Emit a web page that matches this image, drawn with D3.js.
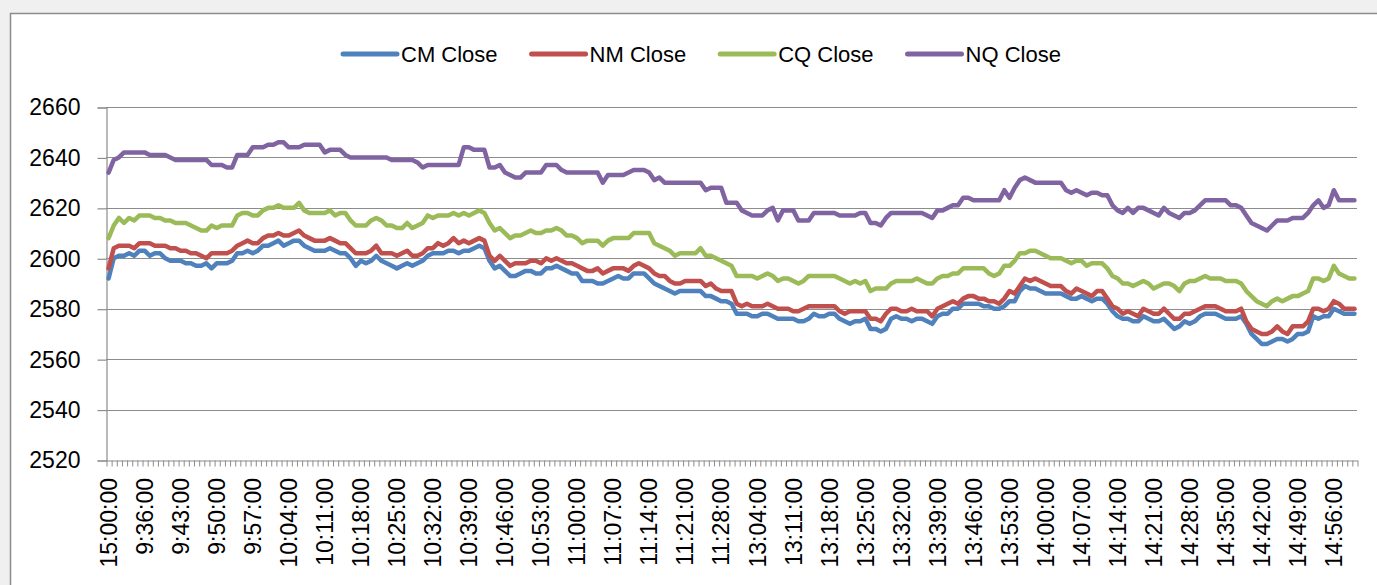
<!DOCTYPE html>
<html>
<head>
<meta charset="utf-8">
<script src="https://cdn.jsdelivr.net/npm/d3@7"></script>
<style>
  body { margin: 0; background: #f0f0f0; }
  svg text { font-family: "Liberation Sans", Arial, sans-serif; fill: #000; }
</style>
</head>
<body>
<svg id="chart" width="1377" height="585"></svg>
<script>
const cmClose = [
  2592,2600,2601,2601,2602,2601,2603,2603,2601,2602,
  2602,2600,2599,2599,2599,2598,2598,2597,2597,2598,
  2596,2598,2598,2598,2599,2602,2602,2603,2602,2603,
  2605,2605,2606,2607,2605,2606,2607,2607,2605,2604,
  2603,2603,2603,2604,2603,2602,2602,2600,2597,2599,
  2598,2599,2601,2599,2598,2597,2596,2597,2598,2597,
  2598,2599,2601,2602,2602,2602,2603,2603,2602,2603,
  2603,2604,2605,2604,2599,2596,2597,2595,2593,2593,
  2594,2595,2595,2594,2594,2596,2596,2597,2596,2595,
  2594,2594,2591,2591,2591,2590,2590,2591,2592,2593,
  2592,2592,2594,2594,2594,2592,2590,2589,2588,2587,
  2586,2587,2587,2587,2587,2587,2585,2585,2584,2583,
  2583,2582,2578,2578,2578,2577,2577,2578,2578,2577,
  2576,2576,2576,2576,2575,2575,2576,2578,2577,2577,
  2578,2578,2576,2575,2574,2575,2575,2576,2572,2572,
  2571,2572,2576,2577,2576,2576,2575,2576,2576,2575,
  2574,2577,2578,2578,2580,2580,2582,2582,2582,2582,
  2581,2581,2580,2580,2581,2583,2583,2587,2589,2588,
  2588,2587,2586,2586,2586,2586,2585,2584,2584,2585,
  2584,2583,2584,2584,2582,2579,2577,2576,2576,2575,
  2575,2577,2576,2575,2575,2576,2574,2572,2573,2575,
  2574,2575,2577,2578,2578,2578,2577,2576,2576,2576,
  2577,2574,2570,2568,2566,2566,2567,2568,2568,2567,
  2568,2570,2570,2571,2577,2576,2577,2577,2580,2579,
  2578,2578,2578
];

const nmClose = [
  2596,2604,2605,2605,2605,2604,2606,2606,2606,2605,
  2605,2605,2604,2604,2603,2603,2602,2602,2601,2600,
  2602,2602,2602,2602,2603,2605,2606,2607,2606,2606,
  2608,2609,2609,2610,2609,2609,2610,2611,2609,2608,
  2607,2607,2607,2608,2607,2606,2606,2604,2602,2602,
  2602,2603,2605,2602,2602,2602,2601,2602,2603,2601,
  2601,2602,2604,2604,2606,2605,2606,2608,2606,2607,
  2606,2607,2608,2607,2601,2599,2601,2599,2597,2598,
  2598,2598,2599,2599,2598,2600,2599,2600,2599,2598,
  2598,2597,2596,2595,2595,2596,2594,2595,2596,2596,
  2596,2595,2597,2598,2597,2596,2594,2593,2593,2591,
  2590,2590,2591,2591,2591,2591,2589,2590,2588,2587,
  2587,2587,2582,2581,2582,2581,2581,2581,2582,2581,
  2580,2580,2580,2579,2579,2580,2581,2581,2581,2581,
  2581,2581,2579,2578,2579,2579,2579,2579,2576,2576,
  2575,2578,2580,2580,2579,2579,2580,2579,2579,2579,
  2577,2580,2581,2582,2583,2582,2584,2585,2585,2584,
  2584,2583,2583,2582,2584,2587,2586,2589,2592,2591,
  2592,2591,2590,2589,2589,2589,2587,2586,2588,2587,
  2586,2585,2587,2587,2584,2581,2580,2578,2579,2578,
  2577,2580,2579,2578,2578,2580,2578,2576,2576,2578,
  2578,2579,2580,2581,2581,2581,2580,2579,2579,2579,
  2580,2575,2572,2571,2570,2570,2571,2573,2571,2570,
  2573,2573,2573,2575,2580,2580,2579,2580,2583,2582,
  2580,2580,2580
];

const cqClose = [
  2608,2613,2616,2614,2616,2615,2617,2617,2617,2616,
  2616,2615,2615,2614,2614,2614,2613,2612,2611,2611,
  2613,2612,2613,2613,2613,2617,2618,2618,2617,2617,
  2619,2620,2620,2621,2620,2620,2620,2622,2619,2618,
  2618,2618,2618,2619,2617,2618,2618,2615,2613,2613,
  2613,2615,2616,2615,2613,2613,2612,2612,2614,2612,
  2613,2614,2617,2616,2617,2617,2617,2618,2617,2618,
  2617,2618,2619,2618,2614,2611,2612,2610,2608,2609,
  2609,2610,2611,2610,2610,2611,2611,2612,2611,2609,
  2609,2608,2606,2607,2607,2607,2605,2607,2608,2608,
  2608,2608,2610,2610,2610,2610,2606,2605,2604,2603,
  2601,2602,2602,2602,2602,2604,2601,2601,2600,2599,
  2598,2597,2593,2593,2593,2593,2592,2593,2594,2593,
  2591,2592,2592,2591,2590,2591,2593,2593,2593,2593,
  2593,2593,2592,2591,2590,2591,2590,2591,2587,2588,
  2588,2588,2590,2591,2591,2591,2591,2592,2591,2590,
  2590,2592,2593,2593,2594,2594,2596,2596,2596,2596,
  2596,2594,2593,2594,2597,2597,2599,2602,2602,2603,
  2603,2602,2601,2600,2600,2600,2599,2598,2599,2599,
  2597,2598,2598,2598,2596,2593,2592,2590,2590,2589,
  2590,2591,2590,2588,2589,2590,2590,2589,2587,2590,
  2591,2591,2592,2593,2592,2592,2592,2591,2591,2591,
  2590,2587,2585,2583,2582,2581,2583,2584,2583,2584,
  2585,2585,2586,2587,2592,2592,2591,2592,2597,2594,
  2593,2592,2592
];

const nqClose = [
  2634,2639,2640,2642,2642,2642,2642,2642,2641,2641,
  2641,2641,2640,2639,2639,2639,2639,2639,2639,2639,
  2637,2637,2637,2636,2636,2641,2641,2641,2644,2644,
  2644,2645,2645,2646,2646,2644,2644,2644,2645,2645,
  2645,2645,2642,2643,2643,2643,2641,2640,2640,2640,
  2640,2640,2640,2640,2640,2639,2639,2639,2639,2639,
  2638,2636,2637,2637,2637,2637,2637,2637,2637,2644,
  2644,2643,2643,2643,2636,2636,2637,2634,2633,2632,
  2632,2634,2634,2634,2634,2637,2637,2637,2635,2634,
  2634,2634,2634,2634,2634,2634,2630,2633,2633,2633,
  2633,2634,2635,2635,2635,2634,2631,2632,2630,2630,
  2630,2630,2630,2630,2630,2630,2627,2628,2628,2628,
  2622,2622,2622,2619,2618,2617,2617,2617,2619,2620,
  2615,2619,2619,2619,2615,2615,2615,2618,2618,2618,
  2618,2618,2617,2617,2617,2617,2618,2618,2614,2614,
  2613,2616,2618,2618,2618,2618,2618,2618,2618,2617,
  2616,2619,2619,2620,2621,2621,2624,2624,2623,2623,
  2623,2623,2623,2623,2627,2624,2628,2631,2632,2631,
  2630,2630,2630,2630,2630,2630,2627,2626,2627,2626,
  2625,2626,2626,2625,2625,2621,2619,2618,2620,2618,
  2620,2620,2619,2618,2617,2620,2618,2617,2616,2618,
  2618,2619,2621,2623,2623,2623,2623,2623,2621,2621,
  2620,2617,2614,2613,2612,2611,2613,2615,2615,2615,
  2616,2616,2616,2618,2621,2623,2620,2621,2627,2623,
  2623,2623,2623
];

const seriesNames = ["CM Close", "NM Close", "CQ Close", "NQ Close"];
const seriesColors = ["#4f81bd", "#c0504d", "#9bbb59", "#8064a2"];
const yTicks = [2520, 2540, 2560, 2580, 2600, 2620, 2640, 2660];

// trading minutes: previous close, then the morning and afternoon sessions
const prevClose = "15:00:00";
const sessions = [["9:30", "11:30"], ["13:00", "15:00"]];
const labelEvery = 7;

const toMin = s => { const [h, m] = s.split(":").map(Number); return h * 60 + m; };
const fmt = t => `${Math.floor(t / 60)}:${String(t % 60).padStart(2, "0")}:00`;
const categories = [prevClose];
sessions.forEach(([a, b]) => {
  for (let t = toMin(a); t <= toMin(b); t++) categories.push(fmt(t));
});

const series = seriesNames.map((name, k) => ({
  name,
  color: seriesColors[k],
  values: [cmClose, nmClose, cqClose, nqClose][k]
}));

const svg = d3.select("#chart");
const plotLeft = 106, plotRight = 1357, plotTop = 107, plotBottom = 460;

// chart frame
svg.append("rect")
  .attr("x", 10.5).attr("y", 13.5)
  .attr("width", 1400).attr("height", 600)
  .attr("fill", "#fff")
  .attr("stroke", "#8c8c8c")
  .attr("stroke-width", 1.5);

const x = d3.scaleBand()
  .domain(categories.map((c, i) => i))
  .range([plotLeft, plotRight])
  .padding(0);

const xEdge = d3.scaleLinear()
  .domain([0, categories.length])
  .range([plotLeft, plotRight]);

const y = d3.scaleLinear()
  .domain([2520, 2660])
  .range([plotBottom, plotTop]);

// gridlines
svg.append("g")
  .selectAll("line")
  .data(yTicks.slice(1))
  .enter()
  .append("line")
  .attr("x1", plotLeft).attr("x2", plotRight)
  .attr("y1", d => Math.round(y(d)) + 0.5)
  .attr("y2", d => Math.round(y(d)) + 0.5)
  .attr("stroke", "#8c8c8c")
  .attr("stroke-width", 1.2);

// y axis
const yAxis = svg.append("g")
  .attr("transform", `translate(${plotLeft + 0.5}, 0.5)`)
  .call(d3.axisLeft(y).tickValues(yTicks).tickSize(9).tickPadding(17).tickFormat(d3.format("d")));
yAxis.select(".domain").attr("stroke", "#8c8c8c").attr("stroke-width", 1.2);
yAxis.selectAll(".tick line").attr("stroke", "#8c8c8c").attr("stroke-width", 1.2);
yAxis.selectAll("text")
  .style("font-family", "'Liberation Sans', Arial, sans-serif")
  .style("font-size", "23px");

// x axis: a tick between every category
const xAxis = svg.append("g")
  .attr("transform", `translate(0.5, ${Math.round(y(2520)) + 0.5})`)
  .call(d3.axisBottom(xEdge)
    .tickValues(d3.range(categories.length + 1))
    .tickSize(6)
    .tickSizeOuter(0)
    .tickFormat(""));
xAxis.select(".domain").attr("stroke", "#8c8c8c").attr("stroke-width", 1.2);
xAxis.selectAll(".tick line").attr("stroke", "#8c8c8c").attr("stroke-width", 1);

// category labels
svg.append("g")
  .selectAll("text")
  .data(categories.map((c, i) => i).filter(i => i % labelEvery === 0))
  .enter()
  .append("text")
  .attr("transform", i => `translate(${x(i) + x.bandwidth() / 2}, ${plotBottom + 18}) rotate(-90)`)
  .attr("text-anchor", "end")
  .attr("dy", "0.36em")
  .style("font-size", "23px")
  .text(i => categories[i]);

// lines
const line = d3.line()
  .x((d, i) => x(i) + x.bandwidth() / 2)
  .y(d => y(d));

svg.append("g")
  .selectAll("path")
  .data(series)
  .enter()
  .append("path")
  .attr("d", s => line(s.values))
  .attr("fill", "none")
  .attr("stroke", s => s.color)
  .attr("stroke-width", 4.5)
  .attr("stroke-linejoin", "round")
  .attr("stroke-linecap", "round");

// legend
const legend = svg.append("g");
const items = legend.selectAll("g")
  .data(series)
  .enter()
  .append("g");

items.append("line")
  .attr("x1", 0).attr("x2", 54)
  .attr("y1", 0).attr("y2", 0)
  .attr("stroke", s => s.color)
  .attr("stroke-width", 5)
  .attr("stroke-linecap", "round");

items.append("text")
  .attr("x", 58)
  .attr("dy", "0.36em")
  .style("font-size", "22px")
  .text(s => s.name);

let cursor = 0;
items.each(function() {
  const w = d3.select(this).select("text").node().getComputedTextLength();
  d3.select(this).attr("transform", `translate(${cursor}, 0)`);
  cursor += 58 + w + 34;
});
const legendWidth = cursor - 34;
legend.attr("transform", `translate(${Math.round(701.5 - legendWidth / 2)}, 54)`);
</script>
</body>
</html>
